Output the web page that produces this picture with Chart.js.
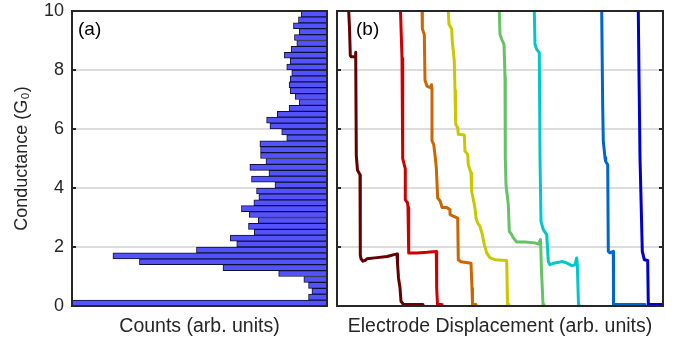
<!DOCTYPE html>
<html>
<head>
<meta charset="utf-8">
<script src="https://cdn.jsdelivr.net/npm/chart.js@4"></script>
<style>
  html, body { margin: 0; padding: 0; background: #fff; }
  #wrap { position: relative; width: 679px; height: 343px; }
  #histBox { position: absolute; left: 0; top: 0; }
  #traceBox { position: absolute; left: 332px; top: 0; }
</style>
</head>
<body>
<div id="wrap">
  <div id="histBox"><canvas id="histChart" width="332" height="343"></canvas></div>
  <div id="traceBox"><canvas id="traceChart" width="347" height="343"></canvas></div>
</div>
<script>
// conductance ticks shared by both panels
const condTicks = [0, 2, 4, 6, 8, 10];

// (a) histogram: bin centres (G0) and counts (arb. units)
const binCenters = [0.1, 0.3, 0.5, 0.7, 0.9, 1.1, 1.3, 1.5, 1.7, 1.9,
  2.1, 2.3, 2.5, 2.7, 2.9, 3.1, 3.3, 3.5, 3.7, 3.9,
  4.1, 4.3, 4.5, 4.7, 4.9, 5.1, 5.3, 5.5, 5.7, 5.9,
  6.1, 6.3, 6.5, 6.7, 6.9, 7.1, 7.3, 7.5, 7.7, 7.9,
  8.1, 8.3, 8.5, 8.7, 8.9, 9.1, 9.3, 9.5, 9.7, 9.9];
const histCounts = [760, 55, 45, 55, 69, 144, 310, 559, 638, 389,
  269, 288, 217, 234, 205, 232, 255, 218, 203, 210,
  155, 225, 173, 230, 182, 198, 198, 200, 120, 135,
  170, 180, 148, 113, 83, 95, 110, 113, 110, 105,
  120, 110, 127, 107, 90, 97, 83, 100, 85, 77];
const countsMax = 760;

// (b) breaking traces: [displacement, conductance]
const trace1 = [[11, 10.3], [11.7, 10], [12.5, 9.43], [13.3, 8.5], [14, 8.45], [18.3, 8.45], [18.7, 8.6],
  [19.3, 5.1], [20.5, 4.6], [23, 4.45], [23.3, 1.74], [24, 1.6], [26, 1.52], [28.5, 1.55], [30, 1.6],
  [40, 1.64], [50, 1.68], [58, 1.75], [60, 1.76], [60.5, 1.45], [61.5, 0.95], [63, 0.62], [64, 0.16],
  [66.5, 0.05], [86, 0.05]];
const trace2 = [[63.3, 10.3], [63.5, 10], [65, 8.4], [65.7, 5.0], [68.3, 4.65], [68.3, 3.6], [70.5, 3.5],
  [71, 3.35], [71.7, 3.3], [71.7, 1.8], [80, 1.8], [90, 1.82], [99.3, 1.85], [99.7, 0.6], [100.5, 0.05],
  [105, 0.05]];
const trace3 = [[85, 10.3], [85, 10], [85.7, 9.4], [87.3, 9.2], [88, 7.65], [90, 7.45], [93.3, 7.4],
  [94.5, 7.5], [95, 7.35], [95, 5.6], [96.7, 5.48], [98.3, 5.03], [99.3, 4.68], [100.7, 3.66],
  [103.3, 3.55], [105, 3.34], [109.7, 3.34], [113, 3.26], [113, 3.1], [116.3, 3.05], [120.7, 2.98],
  [121.3, 1.57], [124, 1.5], [134, 1.45], [135, 0.6], [135.5, 0.05], [139, 0.05]];
const trace4 = [[111.3, 10.3], [111.3, 10], [112, 9.55], [114.7, 9.38], [115.3, 8.98], [117.3, 8.31],
  [118, 7.29], [118.7, 6.16], [120.7, 6.04], [121.3, 5.82], [127.3, 5.8], [128, 5.25], [130.7, 5.14],
  [131.3, 4.79], [134, 4.51], [134.7, 3.88], [138, 3.32], [139, 2.98], [140.7, 2.81], [143, 2.7],
  [145.3, 2.42], [147.3, 2.08], [149.7, 1.8], [153, 1.63], [158, 1.57], [169.7, 1.54], [170.5, 0.05],
  [172, 0.05]];
const trace5 = [[162.3, 10.3], [162.3, 10], [163, 9.21], [164.7, 9.04], [167, 8.87], [168, 7.76],
  [168.3, 5.03], [169, 4.11], [171.3, 3.43], [172.3, 2.53], [174.7, 2.42], [176.3, 2.31], [179.7, 2.17],
  [188, 2.17], [198, 2.14], [201.3, 2.1], [203.5, 2.25], [204.5, 1.2], [206, 0.05], [207, 0.05]];
const trace6 = [[197.3, 10.3], [197.3, 10], [198, 8.87], [199.7, 8.7], [202.3, 8.59], [203, 5.03],
  [204, 2.87], [206.3, 2.59], [209.7, 2.42], [211.3, 1.51], [213, 1.4], [218, 1.46], [223, 1.49],
  [224.7, 1.51], [229.7, 1.46], [234.7, 1.37], [238, 1.4], [239.7, 1.63], [240.3, 1.4], [241.5, 0.05],
  [242, 0.05]];
const trace7 = [[264.7, 10.3], [264.7, 10], [265.7, 6.72], [266.3, 5.59], [268, 5.03], [268.7, 4.9],
  [270.7, 4.79], [271.3, 1.85], [273, 1.8], [276.3, 1.85], [276.5, 0.05], [308, 0.05]];
const trace8 = [[301.3, 10.3], [301.3, 10], [302, 7.85], [303, 5.03], [304, 3.66], [305.3, 1.85],
  [307.3, 1.57], [310.7, 1.54], [311.3, 0.05], [327, 0.05]];

const traces = [trace1, trace2, trace3, trace4, trace5, trace6, trace7, trace8];
const traceColors = ['#640000', '#cc0000', '#cc6600', '#c8c800', '#66c266', '#00c8c8', '#0066cc', '#0000cc'];

Chart.defaults.font.family = "'Liberation Sans', Arial, Helvetica, sans-serif";
Chart.defaults.font.size = 18;
Chart.defaults.color = '#262626';

// box round the plot, MATLAB-style inward ticks, panel letter
const frameAndTicks = {
  id: 'frameAndTicks',
  afterDatasetsDraw(chart, args, opts) {
    const { ctx, chartArea: { left, right, top, bottom } } = chart;
    const y = chart.scales.y;
    ctx.save();
    ctx.strokeStyle = '#262626';
    ctx.lineWidth = 2;
    ctx.strokeRect(left, top, right - left, bottom - top);
    condTicks.forEach(v => {
      const py = y.getPixelForValue(v);
      ctx.beginPath();
      ctx.moveTo(left, py); ctx.lineTo(left + 4, py);
      ctx.moveTo(right, py); ctx.lineTo(right - 4, py);
      ctx.stroke();
    });
    ctx.fillStyle = '#000';
    ctx.font = "19px 'Liberation Sans', Arial, sans-serif";
    ctx.textBaseline = 'top';
    ctx.fillText(opts.label, left + opts.dx, top + 9);
    ctx.restore();
  }
};

const gridColor = c => (c.tick.value === 0 || c.tick.value === 10) ? 'rgba(0,0,0,0)' : '#dcdcdc';

new Chart(document.getElementById('histChart'), {
  type: 'bar',
  data: {
    datasets: [{
      data: binCenters.map((g, i) => ({ x: histCounts[i], y: g })),
      backgroundColor: '#5252ff',
      borderColor: '#101030',
      borderWidth: 1,
      borderSkipped: false,
      barPercentage: 1,
      categoryPercentage: 1
    }]
  },
  options: {
    indexAxis: 'y',
    responsive: false,
    animation: false,
    events: [],
    layout: { padding: { top: 11, right: 5, left: 0, bottom: 0 } },
    plugins: {
      legend: { display: false },
      tooltip: { enabled: false },
      frameAndTicks: { label: '(a)', dx: 6 }
    },
    scales: {
      x: {
        type: 'linear',
        reverse: true,
        min: 0,
        max: countsMax,
        ticks: { display: false },
        grid: { display: false, drawTicks: false },
        border: { display: false },
        title: { display: true, text: 'Counts (arb. units)', font: { size: 19.5 }, padding: { top: 0, bottom: 5 } },
        afterFit: s => { s.height = 37; s.paddingLeft = 0; s.paddingRight = 0; }
      },
      y: {
        type: 'linear',
        min: 0,
        max: 10,
        offset: false,
        ticks: { stepSize: 2, padding: 8 },
        grid: { color: gridColor, lineWidth: 2, drawTicks: false, offset: false },
        border: { display: false },
        title: { display: true, text: 'Conductance (G₀)', padding: { top: 11, bottom: 0 } },
        afterFit: s => { s.width = 72; s.paddingTop = 0; s.paddingBottom = 0; }
      }
    }
  },
  plugins: [frameAndTicks]
});

new Chart(document.getElementById('traceChart'), {
  type: 'line',
  data: {
    datasets: traces.map((t, i) => ({
      data: t.map(([x, y]) => ({ x, y })),
      borderColor: traceColors[i],
      borderWidth: 3,
      pointRadius: 0,
      tension: 0,
      fill: false,
      borderJoinStyle: 'round',
      borderCapStyle: 'round'
    }))
  },
  options: {
    responsive: false,
    animation: false,
    events: [],
    layout: { padding: { top: 11, right: 16, left: 5, bottom: 0 } },
    plugins: {
      legend: { display: false },
      tooltip: { enabled: false },
      frameAndTicks: { label: '(b)', dx: 19 }
    },
    scales: {
      x: {
        type: 'linear',
        min: 0,
        max: 326,
        ticks: { display: false },
        grid: { display: false, drawTicks: false },
        border: { display: false },
        title: { display: true, text: 'Electrode Displacement (arb. units)', font: { size: 19.5 }, padding: { top: 0, bottom: 5 } },
        afterFit: s => { s.height = 37; s.paddingLeft = 0; s.paddingRight = 0; }
      },
      y: {
        type: 'linear',
        min: 0,
        max: 10,
        ticks: { display: false, stepSize: 2 },
        grid: { color: gridColor, lineWidth: 2, drawTicks: false },
        border: { display: false },
        afterFit: s => { s.width = 0; s.paddingTop = 0; s.paddingBottom = 0; }
      }
    }
  },
  plugins: [frameAndTicks]
});
</script>
</body>
</html>
